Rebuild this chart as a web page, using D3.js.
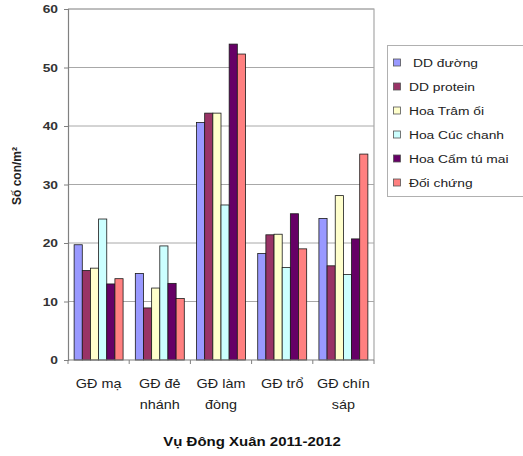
<!DOCTYPE html>
<html>
<head>
<meta charset="utf-8">
<script src="https://cdn.jsdelivr.net/npm/d3@7"></script>
<style>
  body { margin: 0; background: #fff; }
  svg { display: block; font-family: "Liberation Sans", Arial, sans-serif; }
</style>
</head>
<body>
<svg id="chart" width="523" height="456"></svg>
<script>
// Growth stages (two-line labels)
const categories = [["GĐ mạ"], ["GĐ đẻ", "nhánh"], ["GĐ làm", "đòng"], ["GĐ trổ"], ["GĐ chín", "sáp"]];
const seriesNames = ["DD đường", "DD protein", "Hoa Trâm ổi", "Hoa Cúc chanh", "Hoa Cẩm tú mai", "Đối chứng"];
const seriesColors = ["#9999ff", "#993366", "#ffffcc", "#ccffff", "#660066", "#ff8080"];

// Số con/m² per stage, one array per treatment
const ddDuong     = [19.7, 14.8, 40.6, 18.2, 24.2];
const ddProtein   = [15.3, 8.9, 42.2, 21.4, 16.1];
const hoaTramOi   = [15.7, 12.3, 42.2, 21.5, 28.1];
const hoaCucChanh = [24.1, 19.5, 26.5, 15.8, 14.6];
const hoaCamTuMai = [13.0, 13.1, 54.0, 25.0, 20.7];
const doiChung    = [13.9, 10.5, 52.3, 19.0, 35.2];
const seriesValues = [ddDuong, ddProtein, hoaTramOi, hoaCucChanh, hoaCamTuMai, doiChung];

const yTicks = [0, 10, 20, 30, 40, 50, 60];

// Text is drawn slightly widened horizontally
const STRETCH = 1.2;

const svg = d3.select("#chart");
const plot = { left: 68, right: 374, top: 9, bottom: 360 };

const x0 = d3.scaleBand()
  .domain(categories.map((d, i) => i))
  .range([plot.left, plot.right])
  .padding(0);

// Excel-style gap: 150% of one bar width, split on both sides of a group
const barW = x0.bandwidth() / (seriesNames.length + 1.5);
const x1 = d3.scaleBand()
  .domain(seriesNames.map((d, i) => i))
  .range([barW * 0.75, barW * 0.75 + barW * seriesNames.length])
  .padding(0);

const y = d3.scaleLinear().domain([0, 60]).range([plot.bottom, plot.top]);

// Grid lines
svg.append("g")
  .selectAll("line")
  .data(yTicks.filter(t => t > 0))
  .join("line")
  .attr("x1", plot.left).attr("x2", plot.right)
  .attr("y1", d => y(d)).attr("y2", d => y(d))
  .attr("stroke", "#a8a8a8").attr("stroke-width", 1);

// Plot area border (top and right)
svg.append("path")
  .attr("d", `M${plot.left},${plot.top}H${plot.right}V${plot.bottom}`)
  .attr("fill", "none").attr("stroke", "#a8a8a8").attr("stroke-width", 1.2);

// Bars
svg.append("g")
  .selectAll("g")
  .data(seriesValues)
  .join("g")
  .attr("fill", (d, i) => seriesColors[i])
  .each(function (vals, si) {
    d3.select(this).selectAll("rect")
      .data(vals)
      .join("rect")
      .attr("x", (v, ci) => x0(ci) + x1(si))
      .attr("y", v => y(v))
      .attr("width", x1.bandwidth())
      .attr("height", v => y(0) - y(v))
      .attr("stroke", "#1a1a1a")
      .attr("stroke-width", 0.8);
  });

// Y axis
const yAxis = svg.append("g")
  .attr("transform", `translate(${plot.left},0)`)
  .call(d3.axisLeft(y).tickValues(yTicks).tickSize(4).tickPadding(6));
yAxis.select(".domain").attr("stroke", "#808080").attr("stroke-width", 1.2);
yAxis.selectAll(".tick line").attr("stroke", "#808080");
yAxis.selectAll("text")
  .attr("x", 0)
  .attr("transform", `translate(-10,0) scale(${STRETCH},1)`)
  .attr("font-size", 11.5).attr("font-weight", "bold").attr("fill", "#333")
  .attr("font-family", "Liberation Sans, Arial, sans-serif");

// X axis baseline with ticks at group boundaries
const xAxisG = svg.append("g");
xAxisG.append("line")
  .attr("x1", plot.left).attr("x2", plot.right)
  .attr("y1", y(0)).attr("y2", y(0))
  .attr("stroke", "#808080").attr("stroke-width", 1.2);
xAxisG.selectAll("line.tk")
  .data(d3.range(categories.length + 1))
  .join("line")
  .attr("class", "tk")
  .attr("x1", i => i < categories.length ? x0(i) : plot.right)
  .attr("x2", i => i < categories.length ? x0(i) : plot.right)
  .attr("y1", y(0)).attr("y2", y(0) + 4)
  .attr("stroke", "#808080");

// Category labels
const catLabels = svg.append("g")
  .selectAll("text")
  .data(categories)
  .join("text")
  .attr("text-anchor", "middle")
  .attr("font-size", 12)
  .attr("fill", "#222")
  .attr("transform", (d, i) => `translate(${x0(i) + x0.bandwidth() / 2},388) scale(${STRETCH},1)`);
catLabels.selectAll("tspan")
  .data(d => d)
  .join("tspan")
  .attr("x", 0)
  .attr("dy", (d, i) => i === 0 ? 0 : 21)
  .text(d => d);

// Y axis title
svg.append("text")
  .attr("transform", "translate(21,176) rotate(-90)")
  .attr("text-anchor", "middle")
  .attr("font-size", 12)
  .attr("font-weight", "bold")
  .attr("fill", "#222")
  .text("Số con/m²");

// Chart title
svg.append("text")
  .attr("transform", `translate(252,446) scale(${STRETCH},1)`)
  .attr("text-anchor", "middle")
  .attr("font-size", 12.5)
  .attr("font-weight", "bold")
  .attr("fill", "#111")
  .text("Vụ Đông Xuân 2011-2012");

// Legend
const legend = svg.append("g");
legend.append("rect")
  .attr("x", 387.5).attr("y", 45.5)
  .attr("width", 150).attr("height", 151)
  .attr("fill", "#fff").attr("stroke", "#b0b0b0");
const items = legend.selectAll("g.item")
  .data(seriesNames)
  .join("g")
  .attr("class", "item")
  .attr("transform", (d, i) => `translate(0,${62.5 + i * 24})`);
items.append("rect")
  .attr("x", 393.5).attr("y", -3.5)
  .attr("width", 7).attr("height", 7)
  .attr("fill", (d, i) => seriesColors[i])
  .attr("stroke", "#555").attr("stroke-width", 0.8);
items.append("text")
  .attr("transform", (d, i) => `translate(${i === 0 ? 413 : 409},4) scale(${STRETCH},1)`)
  .attr("font-size", 11.5)
  .attr("fill", "#222")
  .text(d => d);
</script>
</body>
</html>
